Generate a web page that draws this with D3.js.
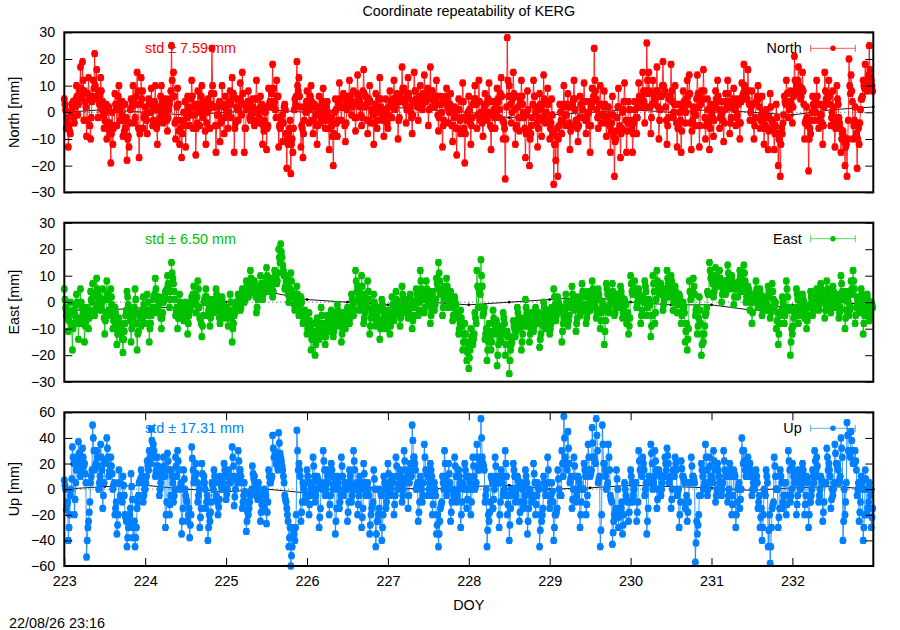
<!DOCTYPE html>
<html><head><meta charset="utf-8">
<script src="https://cdn.jsdelivr.net/npm/d3@7"></script>
<style>
body{margin:0;background:#fff}
svg{display:block}
text{font-family:"Liberation Sans",Arial,Helvetica,sans-serif;font-size:14.4px;fill:#000}
</style>
</head><body>
<svg id="chart" width="900" height="630"></svg>
<script>
// ---------- data ----------
const doyStart = 223;
const samplesPerDay = 120;  // regular sampling; arrays A, C, B hold samples 3i, 3i+1, 3i+2
const refStep = 0.5;        // spacing of the black reference solutions (days)
const xTicks = [223,224,225,226,227,228,229,230,231,232];
const neTicks = [-30,-20,-10,0,10,20,30];
const upTicks = [-60,-40,-20,0,20,40,60];

const northA = [
5,-6,-13,-8,2,-4,10,3,17,19,8,-9,13,-10,6,22,16,8,13,4,-3,-10,2,-19,-12,7,-5,10,2,-9,3,-18,-13,5,10,-2,15,-17,13,-6,
2,-8,4,9,-3,10,-12,1,10,-4,5,-7,3,25,15,-10,9,-12,-17,0,-13,6,-5,12,2,-16,8,-5,10,3,-12,5,-6,24,7,-15,2,-11,10,-8,
3,-6,8,13,-15,5,-3,11,15,-15,2,8,-3,5,-5,12,0,6,-12,-3,-14,9,2,18,4,12,-13,-5,-11,3,-21,-8,-23,-15,5,19,13,-13,-17,2,
8,-4,10,-8,2,-12,6,-2,9,-6,4,-14,-2,-20,5,-9,11,-3,7,-11,3,12,-1,8,-7,14,4,-5,16,6,-8,10,1,-12,7,-3,13,0,-9,5,
-6,8,-2,12,3,-10,6,17,9,-4,13,2,-8,15,5,-3,10,1,14,6,-5,17,8,2,12,-7,6,-13,4,9,-4,7,-11,2,-16,5,-8,11,-19,-3,
6,-12,3,10,-6,12,0,-9,7,-3,11,-14,4,-6,9,-2,13,-10,-25,28,10,-4,15,-12,6,-7,12,0,-17,8,-20,-5,12,2,-13,7,-9,14,-4,9,
-10,5,-27,-18,-24,3,-8,10,-5,7,-14,2,12,-3,-11,6,-2,11,-8,4,-15,9,24,5,-6,10,-4,8,-9,2,-15,6,-24,-7,9,-17,0,11,-15,4,
-3,-15,4,-8,11,2,15,-4,26,15,-8,12,3,17,-10,6,19,8,-12,5,18,-2,10,-13,3,-15,8,-4,12,14,-14,2,-5,14,-13,8,16,-10,5,-14,
3,-9,8,12,-6,4,-11,7,12,-8,2,9,-5,5,-10,11,18,6,16,-3,8,-10,4,10,-6,6,-12,1,-14,7,-3,-14,3,-20,-24,-8,6,12,-2,8,
-4,21,10,17,5,15,-10,2,-22,-8,6,-3,12,-6,3,-12,15,4,12,-5,8,-13,10,-2,-15,-7,-20,-24,20,14,-10,2,-21,-12,5,12,18,8,25,12
];
const northB = [
1,-4,-7,3,-2,5,-1,8,6,-3,2,7,-5,4,9,5,-2,6,1,-6,3,-4,-8,0,-5,2,6,-3,4,-7,-2,-9,1,4,-4,6,-6,3,8,-1,
-3,5,0,-5,4,-6,2,6,-2,3,-3,1,8,6,-4,2,-7,-3,-5,4,-2,1,5,-6,3,-4,1,6,-2,-7,0,3,7,2,-5,-1,4,-3,2,6,
0,4,-2,7,-4,1,5,-1,3,-6,4,-2,2,-3,5,1,-4,3,-7,2,-5,4,7,3,-2,6,-6,-1,2,-8,-12,-3,-10,1,6,8,2,-6,-3,4,
1,6,-3,3,-5,0,-4,4,-1,2,-6,-3,-9,0,-4,3,2,5,-5,1,6,3,4,-2,7,5,-1,8,2,-3,5,-4,-1,3,-6,5,2,-3,1,-4,
2,3,5,1,7,-2,4,8,3,6,5,-2,4,8,2,6,3,7,4,9,5,2,6,4,-1,3,0,-3,6,2,3,-5,-2,-6,1,-3,4,-6,-2,0,
-4,-2,5,3,4,-3,-4,2,-1,5,-5,-1,-2,3,4,7,-3,-6,2,6,3,5,1,-5,-2,4,3,-6,-1,-7,-8,3,6,-4,-2,1,3,-1,4,-3,
-4,-8,-12,-6,-5,-3,2,-1,3,-4,-5,5,1,-6,-2,3,4,-3,-1,-5,2,6,8,-2,3,-1,2,-2,-3,-5,-4,-9,-10,2,-5,-6,4,-3,-4,1,
-6,-4,-2,3,5,6,4,8,7,2,3,5,8,2,1,10,7,-3,-2,6,4,3,-4,-5,-3,2,1,5,3,-4,-3,-1,5,2,3,5,-2,-3,-4,-2,
-2,2,4,1,-1,-3,1,2,4,-2,5,1,-1,-4,4,7,8,5,3,2,-3,-2,6,2,-1,-4,-5,-6,-2,-3,-6,-5,-8,-10,-6,-1,3,4,3,2,
6,8,12,7,9,3,-3,-5,-6,0,2,4,3,-1,-4,2,5,7,3,0,-4,-2,3,-6,-8,-11,-12,-3,7,4,-3,-8,-6,1,6,9,11,14,13,8
];
const northC = [
3,-2,-5,0,4,2,6,5,9,12,4,-3,5,-2,12,10,6,3,8,-1,0,-6,-4,-8,-6,3,1,4,-1,-3,-6,-10,-4,2,5,3,8,-8,5,-2,
-1,0,3,4,1,2,-4,-2,4,0,1,-2,5,12,6,-3,3,-6,-8,-4,-5,2,-1,6,-1,-6,3,0,4,1,-4,1,3,10,2,-5,-1,-4,3,-2,
1,0,3,6,-6,2,1,4,7,-6,1,3,-1,2,0,5,-2,2,-5,0,-6,3,4,9,1,6,-5,-3,-4,1,-10,-6,-12,-6,3,10,6,-5,-8,0,
3,1,4,-3,-1,-5,2,1,3,-3,0,-6,-5,-8,1,-3,5,2,2,-4,4,6,2,3,-2,6,2,-2,7,3,-3,4,0,-4,2,0,5,-1,-3,1,
-1,4,2,5,4,-3,5,9,5,1,7,0,-1,8,3,2,5,3,7,6,1,8,5,3,6,-2,3,-5,4,5,0,2,-5,-1,-6,1,-2,4,-8,-1,
1,-5,3,5,-1,4,-2,-3,3,0,4,-6,1,-1,5,1,6,-4,-10,12,6,0,7,-6,2,-2,6,-2,-8,1,-10,-2,6,0,-6,3,-3,5,0,3,
-6,-1,-12,-9,-10,0,-3,3,-1,2,-7,3,5,-4,-5,3,1,4,-3,0,-5,4,12,1,-1,3,-1,3,-4,-1,-7,-1,-11,-2,2,-8,1,4,-7,1,
-4,-8,1,-2,6,3,8,2,12,8,-2,7,5,8,-3,6,10,2,-5,5,8,0,3,-6,0,-7,4,0,6,7,-7,0,-1,7,-5,5,8,-5,1,-6,
0,-3,5,6,-2,0,-4,4,7,-4,3,4,-2,3,-4,6,10,5,8,0,3,-5,4,5,-3,0,-6,-2,-7,2,-4,-8,-2,-10,-12,-4,4,7,1,4,
2,12,10,10,6,8,-4,-2,-10,-3,3,0,6,-3,-1,-5,8,5,6,-2,2,-6,5,-4,-10,-9,-13,-10,10,8,-5,-4,-10,-4,5,10,12,10,16,10
];
const eastA = [
5,-5,-11,0,-18,-8,3,-14,5,-6,-15,-2,-10,4,7,-5,9,2,-3,5,-12,8,-3,5,-10,-2,-16,-6,-12,-19,-8,4,-3,-15,-6,5,-18,-4,-9,2,
-8,3,-15,-5,1,9,-4,2,-10,0,4,10,-2,15,7,-5,-10,3,-3,-7,0,-12,-3,2,6,-4,8,-6,-13,0,5,-5,-9,1,-4,5,-3,-8,2,-6,
-2,-9,3,-15,-5,0,3,-3,5,0,8,2,12,4,8,-4,3,10,1,6,13,4,9,2,12,7,20,22,14,5,10,0,11,3,-3,6,-5,2,-8,-3,
-12,-4,-18,-8,-20,-6,-14,-2,-10,-16,-5,-11,-3,-13,-7,-1,-9,-15,-4,-10,-2,-8,3,-5,12,6,-3,10,-8,2,8,-12,-4,3,-9,-2,-14,1,-6,-10,
-3,-12,2,-7,4,-1,-9,6,-4,1,-6,3,-10,-2,5,-5,12,2,-4,8,-1,-8,4,-3,9,15,3,-5,6,9,-2,4,-7,2,-4,-12,-3,-18,-8,-22,
-25,-10,-16,-4,12,5,16,-5,-14,-22,-8,-18,-3,-12,-24,-9,-15,-4,-20,-11,-27,-16,-7,-13,-2,-10,-18,-6,1,-9,-15,-4,-11,-2,-8,-17,-5,0,-10,-3,
-12,-2,5,-7,2,-4,-15,-6,3,-9,0,6,-3,-11,2,-5,7,-1,-8,4,-3,8,1,-6,5,-10,0,-16,7,-4,2,7,-5,3,-2,6,-6,1,-8,-12,
10,3,8,-2,5,-8,2,8,-5,1,-13,10,-8,12,3,7,-3,5,12,2,10,-3,6,-4,3,-8,0,-15,-18,8,3,9,-5,-12,2,-20,-15,-5,4,15,
10,2,13,6,12,0,8,3,14,5,10,-1,7,2,12,4,14,0,6,-3,-8,3,8,-2,5,-5,2,-3,6,-6,7,-2,-10,-16,-5,2,-8,8,-3,-20,
-12,-4,5,-8,0,3,-6,-10,-2,4,-5,1,5,-3,7,0,-6,8,2,-4,6,-2,3,-6,10,1,-10,4,-5,8,12,-8,2,-4,5,-12,-3,3,-7,0
];
const eastB = [
-2,-6,-4,-9,-3,-1,-6,-8,-2,-4,-7,-5,-3,0,2,-1,3,-2,0,-6,-4,1,-5,-1,-6,-8,-10,-9,-14,-11,-3,-1,-7,-9,-2,-8,-11,-6,-3,-5,
-3,-5,-8,-2,3,2,-1,-6,-4,2,5,6,4,9,1,-2,-4,-6,-1,-4,-7,-5,0,3,1,2,-2,-8,-5,2,0,-2,-3,-2,0,1,-6,-3,-2,-4,
-5,-3,-6,-8,-2,-1,0,2,1,4,3,5,7,6,2,1,6,5,4,9,7,6,5,8,9,11,15,17,10,8,3,5,4,-1,1,-2,-1,-4,-6,-7,
-8,-10,-12,-14,-12,-10,-9,-8,-13,-11,-8,-7,-6,-9,-4,-5,-6,-10,-7,-5,-6,-3,-1,0,4,2,0,3,-4,-2,1,-6,-2,-3,-5,-7,-8,-3,-4,-6,
-5,-7,-4,-3,-1,-4,-2,1,-2,-3,-1,-2,-5,0,2,0,5,4,1,3,2,-3,0,1,5,8,5,1,2,4,1,-1,-2,-1,-6,-8,-9,-12,-15,-17,
-18,-15,-12,-8,-2,3,6,-2,-10,-15,-13,-12,-8,-7,-16,-14,-10,-8,-12,-16,-18,-13,-10,-9,-6,-8,-12,-9,-4,-6,-10,-8,-7,-5,-4,-12,-9,-4,-6,-7,
-8,-6,-1,-3,-1,-2,-8,-3,-1,-5,-2,1,-1,-6,-3,-2,2,-3,-4,0,0,3,-2,-3,1,-4,-2,-7,3,-1,0,2,-2,0,1,2,-2,-1,-4,-6,
4,5,3,2,1,-3,0,4,1,-1,-5,4,1,5,6,3,1,2,7,5,6,2,3,1,0,-3,-4,-8,-10,1,4,3,-2,-6,-8,-12,-9,-2,3,9,
7,6,8,9,7,5,6,8,9,10,7,5,6,8,9,7,8,5,4,2,0,1,3,1,2,-1,0,-1,2,-2,1,0,-4,-8,-3,-1,-3,2,-2,-10,
-6,-2,1,-3,-1,0,-3,-5,-1,1,-2,0,2,1,3,2,-1,3,0,-1,2,1,0,-2,4,3,-3,0,-2,3,5,-2,0,-1,1,-5,-1,0,-3,-2
];
const eastC = [
1,-3,-7,-4,-10,-5,0,-8,0,-4,-9,-4,-6,1,3,-3,5,0,-2,1,-7,3,-4,2,-7,-4,-12,-8,-10,-14,-5,2,-5,-10,-4,1,-12,-5,-6,-1,
-5,0,-10,-4,2,5,-2,0,-6,1,4,7,1,11,4,-3,-6,0,-2,-5,-3,-8,-2,2,3,-1,5,-6,-9,1,2,-3,-6,0,-2,3,-2,-5,0,-5,
-3,-6,0,-10,-4,0,2,-2,3,1,6,3,9,5,5,-2,4,7,3,7,10,5,7,4,10,8,17,19,12,6,7,2,8,2,-2,3,-4,0,-7,-5,
-10,-7,-14,-11,-16,-8,-12,-5,-11,-13,-7,-9,-5,-11,-6,-3,-8,-12,-6,-8,-4,-6,1,-3,8,4,-2,6,-6,0,4,-9,-3,0,-7,-3,-10,-1,-5,-8,
-4,-9,-1,-5,1,-2,-6,3,-3,0,-4,1,-7,-1,3,-3,8,3,-2,5,0,-5,2,-1,7,11,4,-2,4,6,0,2,-5,0,-5,-10,-6,-15,-12,-19,
-21,-13,-14,-6,6,4,10,-4,-12,-18,-11,-15,-6,-10,-20,-12,-12,-6,-16,-13,-22,-15,-9,-11,-4,-9,-15,-8,-2,-8,-12,-6,-9,-4,-6,-14,-7,-2,-8,-5,
-10,-4,2,-5,0,-3,-11,-5,0,-7,-1,3,-2,-8,0,-4,4,-1,-6,2,-2,5,0,-4,3,-7,-1,-11,5,-3,1,4,-4,1,-1,4,-4,0,-6,-9,
7,4,5,0,3,-5,1,6,-2,0,-9,7,-4,8,4,5,-1,3,9,3,8,0,4,-1,2,-5,-2,-11,-14,4,3,6,-3,-9,-3,-16,-12,-4,3,12,
8,4,10,7,9,3,7,5,11,7,8,2,6,5,10,6,11,2,5,0,-4,2,5,0,3,-3,1,-2,4,-4,4,-1,-7,-12,-4,0,-5,5,-2,-15,
-9,-3,3,-5,-1,1,-4,-7,-2,2,-3,0,3,-1,5,1,-3,5,1,-2,4,0,1,-4,7,2,-6,2,-3,5,8,-5,1,-2,3,-8,-2,1,-5,-1
];
const upA = [
7,-16,-40,-5,33,-20,15,37,10,32,20,-53,-25,5,50,15,30,0,35,-15,20,40,10,25,0,-20,-35,15,-5,10,-20,-45,-25,12,-38,-45,-15,5,15,-10,
0,22,30,47,35,10,25,-5,10,25,-30,28,-20,15,-10,25,30,0,-35,15,-5,-25,-38,33,5,20,-10,-30,20,10,-15,-40,-25,5,15,-5,-20,10,0,20,
-8,15,5,33,-13,10,30,15,-15,5,-33,-20,-5,18,10,-5,5,-25,-10,0,-27,15,5,42,30,20,44,25,15,-5,-15,-45,-60,-30,-40,46,20,-25,5,-10,
15,-20,0,25,-10,10,-30,5,30,-5,15,-20,20,0,-35,10,-15,25,-5,5,-25,15,-10,30,0,-20,10,-30,20,-5,5,-35,-15,15,-45,-25,0,-40,10,-15,
20,-5,10,-20,25,0,15,-10,30,5,-15,20,50,25,0,-25,10,-10,35,15,-5,20,-20,5,-35,-45,-15,10,30,-5,20,-25,0,25,-10,15,-30,5,20,-15,
10,-20,25,0,35,15,55,20,-10,-45,-25,10,-15,25,5,-30,15,-5,30,-20,-40,0,20,-10,10,-25,5,-15,15,-35,0,-10,20,-20,5,-45,-25,10,-5,25,
-15,5,-40,-20,15,-5,30,57,20,45,5,-15,25,-10,10,-30,0,20,-20,35,10,48,25,55,5,-45,50,20,0,35,-5,-43,-20,15,-30,-20,-35,5,-8,-25,
15,-10,5,-25,30,15,25,-5,-35,10,35,0,30,-15,15,-5,10,25,32,5,-15,15,25,-5,-30,22,10,-15,-25,5,25,10,-57,-35,-5,20,0,35,-5,25,
10,30,-10,20,5,-5,30,10,-10,20,-20,15,-30,0,-15,40,30,10,25,20,-5,0,15,-15,-30,-40,0,15,-45,-58,-15,25,0,-30,15,-15,5,-20,30,-10,
20,5,-20,15,0,20,-20,10,-30,-10,15,30,25,-10,10,-25,5,32,20,-15,-5,35,20,5,40,-40,-20,52,30,45,20,30,-5,-25,10,-40,15,-20,5,-30
];
const upB = [
0,-10,-20,8,20,5,25,20,15,18,5,-30,-10,15,30,20,18,10,15,5,22,25,18,12,5,-10,-20,-5,-10,-5,-25,-30,-15,-8,-25,-30,-5,8,5,0,
10,15,20,30,25,18,12,5,15,10,-10,15,-5,5,0,10,15,5,-15,0,-10,-15,-20,15,10,5,0,-15,5,0,-5,-20,-10,0,5,-10,-8,2,5,10,
0,5,10,18,0,5,15,5,-5,-10,-18,-10,0,8,0,-8,-5,-12,-15,-5,-10,5,10,25,20,15,28,18,5,-10,-25,-30,-45,-35,-20,15,10,-10,0,-5,
5,-5,5,10,0,5,-15,0,15,5,5,-5,10,5,-15,0,-5,10,5,0,-10,5,0,15,5,-5,0,-15,5,0,-5,-20,-10,0,-25,-15,-5,-20,0,-5,
5,0,5,-5,10,5,5,0,15,10,5,10,25,15,5,-10,0,5,15,10,5,10,-5,-5,-20,-25,-10,0,10,5,5,-10,-5,10,0,5,-10,0,10,0,
5,0,10,5,15,20,25,15,0,-20,-10,5,0,10,5,-10,5,0,10,-5,-15,-5,10,0,5,-10,0,-5,5,-15,-5,-5,5,-5,0,-20,-15,0,-5,5,
-5,-10,-20,-15,0,-5,10,25,15,20,10,0,10,0,5,-10,0,10,-5,15,15,25,20,30,10,-20,20,10,5,15,-10,-25,-15,0,-15,-10,-20,-5,-10,-10,
5,0,5,-10,15,10,15,5,-15,5,20,10,15,0,10,5,10,15,20,10,0,10,15,0,-10,10,5,-5,-10,5,10,5,-25,-20,-5,10,5,15,5,10,
5,15,0,10,5,5,15,10,0,10,-5,10,-10,5,0,20,15,10,15,10,5,5,5,-5,-15,-20,-5,5,-20,-30,-10,10,0,-15,5,-5,5,-5,15,0,
10,5,-5,5,5,10,-5,5,-10,0,5,15,10,0,5,-10,5,15,10,0,5,20,15,10,25,0,5,30,25,30,20,15,5,-10,0,-20,0,-10,-5,-15
];
const upC = [
3,-12,-30,0,25,-8,20,28,12,25,12,-40,-18,10,40,18,25,5,25,-5,20,32,14,18,3,-15,-28,5,-8,3,-22,-38,-20,2,-30,-38,-10,6,10,-5,
5,18,25,38,30,14,18,0,12,18,-20,22,-12,10,-5,18,22,2,-25,8,-8,-20,-28,24,8,12,-5,-22,12,5,-10,-30,-18,3,10,-8,-14,6,0,15,
-4,10,8,25,-6,8,22,10,-10,-2,-25,-15,-3,12,5,-6,0,-18,-12,-2,-18,10,8,32,25,18,36,22,10,-8,-20,-38,-52,-32,-30,30,15,-18,2,-8,
10,-12,2,18,-5,8,-22,2,22,0,10,-12,15,2,-25,5,-10,18,0,5,-18,10,-5,22,2,-12,5,-22,12,-5,0,-28,-12,8,-35,-20,-2,-30,5,-10,
12,-2,8,-12,18,2,10,-5,22,8,-5,15,38,20,2,-18,5,-5,25,12,0,15,-12,0,-28,-35,-12,5,20,0,12,-18,-2,18,-5,10,-20,2,15,-8,
8,-10,18,2,25,18,40,18,-5,-32,-18,8,-8,18,5,-20,10,-2,20,-12,-28,-2,15,-5,8,-18,2,-10,10,-25,-2,-8,12,-12,2,-32,-20,5,-5,15,
-10,-2,-30,-18,8,-5,20,40,18,32,8,-8,18,-5,8,-20,0,15,-12,25,12,36,22,42,8,-32,35,15,2,25,-8,-34,-18,8,-22,-15,-28,0,-9,-18,
10,-5,5,-18,22,12,20,0,-25,8,28,5,22,-8,12,0,10,20,26,8,-8,12,20,-2,-20,16,8,-10,-18,5,18,8,-42,-28,-5,15,2,25,0,18,
8,22,-5,15,5,0,22,10,-5,15,-12,12,-20,2,-8,30,22,10,20,15,0,2,10,-10,-22,-30,-2,10,-32,-45,-12,18,0,-22,10,-10,5,-12,22,-5,
15,5,-12,10,2,15,-12,8,-20,-5,10,22,18,-5,8,-18,5,25,15,-8,0,28,18,8,32,-25,-10,42,28,38,20,22,0,-18,5,-30,8,-15,0,-22
];
// formal errors (mm)
const northSigma = 1.1, eastSigma = 1.1, upSigma = 2.3;
// black reference solutions every half day
const northRef = [0,1,0,-1,0,1,0,1,2,1,0,-2,-1,0,1,0,1,0,-1,1,2];
const eastRef  = [-3,-3,-2,-2,0,4,1,0,-1,0,-1,0,1,2,0,-1,-1,-3,-1,0,-1];
const upRef    = [0,2,3,0,-2,0,-3,2,1,0,2,3,0,1,3,2,1,-1,1,2,0];

const names  = ["North","East","Up"];
const colors = ["#ff0000","#00c000","#0080ff"];
const stdLabels = ["std \u00b1 7.59 mm","std \u00b1 6.50 mm","std \u00b1 17.31 mm"];
const yLabels = ["North [mm]","East [mm]","Up [mm]"];

// interleave the three sub-samplings into one time series
function series(a, c, b){
  const out = [];
  a.forEach((v,i)=>{
    out.push([doyStart + (3*i)/samplesPerDay, v]);
    out.push([doyStart + (3*i+1)/samplesPerDay, c[i]]);
    out.push([doyStart + (3*i+2)/samplesPerDay, b[i]]);
  });
  return out;
}

// ---------- layout ----------
const svg = d3.select("#chart");
const left = 64.3, right = 873.3;
const x = d3.scaleLinear().domain([223, 233]).range([left, right]);
const boxes = [{top:32.3,bottom:192.3},{top:222.7,bottom:381.7},{top:412.3,bottom:566}];

const panels = [
  {pts:series(northA,northC,northB), sigma:northSigma, ref:northRef, domain:[-30,30], ticks:neTicks},
  {pts:series(eastA,eastC,eastB),    sigma:eastSigma,  ref:eastRef,  domain:[-30,30], ticks:neTicks},
  {pts:series(upA,upC,upB),          sigma:upSigma,    ref:upRef,    domain:[-60,60], ticks:upTicks}
];

svg.append("text").attr("x",(left+right)/2).attr("y",16).attr("text-anchor","middle")
  .text("Coordinate repeatability of KERG");

panels.forEach((p,pi)=>{
  const b = boxes[pi], col = colors[pi];
  const y = d3.scaleLinear().domain(p.domain).range([b.bottom,b.top]);
  const g = svg.append("g");

  // zero axis (dotted)
  g.append("line").attr("x1",left).attr("x2",right).attr("y1",y(0)).attr("y2",y(0))
    .attr("stroke","#000").attr("stroke-width",1).attr("stroke-dasharray","1,3").attr("opacity",0.7);

  // std label
  g.append("text").attr("x",145).attr("y",b.top+21).style("fill",col).text(stdLabels[pi]);

  // reference solutions (black)
  const refPts = p.ref.map((v,i)=>[doyStart+i*refStep, v]);
  g.append("path").attr("d", d3.line().x(d=>x(d[0])).y(d=>y(d[1]))(refPts))
    .attr("fill","none").attr("stroke","#000").attr("stroke-width",0.9);
  g.selectAll(null).data(refPts).join("circle")
    .attr("cx",d=>x(d[0])).attr("cy",d=>y(d[1])).attr("r",1.4).attr("fill","#000");

  // series
  const pts = p.pts;
  g.append("path").attr("d", d3.line().x(d=>x(d[0])).y(d=>y(d[1]))(pts))
    .attr("fill","none").attr("stroke",col).attr("stroke-width",1).attr("stroke-opacity",0.8);
  const eb = pts.map(d=>{
    const xx=x(d[0]), y1=y(d[1]-p.sigma), y2=y(d[1]+p.sigma);
    return `M${xx},${y1}V${y2}M${xx-2.6},${y1}h5.2M${xx-2.6},${y2}h5.2`;
  }).join("");
  g.append("path").attr("d",eb).attr("fill","none").attr("stroke",col).attr("stroke-width",1);
  g.selectAll(null).data(pts).join("circle")
    .attr("cx",d=>x(d[0])).attr("cy",d=>y(d[1])).attr("r",3.5).attr("fill",col);

  // axes (ticks inward, mirrored)
  const ya = g.append("g").attr("transform",`translate(${left},0)`)
    .call(d3.axisLeft(y).tickValues(p.ticks).tickSizeInner(-8).tickSizeOuter(0).tickPadding(9));
  ya.select(".domain").remove();
  ya.selectAll("text").style("font-size","14.4px").style("font-family",null);
  const yr = g.append("g").attr("transform",`translate(${right},0)`)
    .call(d3.axisRight(y).tickValues(p.ticks).tickSizeInner(-8).tickSizeOuter(0).tickFormat(""));
  yr.select(".domain").remove();
  if (pi === 2) {
    const xb = g.append("g").attr("transform",`translate(0,${b.bottom})`)
      .call(d3.axisBottom(x).tickValues(xTicks).tickSizeInner(-8).tickSizeOuter(0).tickPadding(10).tickFormat(d3.format("d")));
    xb.select(".domain").remove();
    xb.selectAll("text").style("font-size","14.4px").style("font-family",null);
    const xt = g.append("g").attr("transform",`translate(0,${b.top})`)
      .call(d3.axisTop(x).tickValues(xTicks).tickSizeInner(-8).tickSizeOuter(0).tickFormat(""));
    xt.select(".domain").remove();
  }
  g.selectAll(".tick line").attr("stroke","#000").attr("stroke-width",1);

  // border
  g.append("rect").attr("x",left).attr("y",b.top).attr("width",right-left).attr("height",b.bottom-b.top)
    .attr("fill","none").attr("stroke","#000").attr("stroke-width",2);

  // y label
  g.append("text").attr("transform",`translate(18.6,${(b.top+b.bottom)/2}) rotate(-90)`)
    .attr("text-anchor","middle").text(yLabels[pi]);

  // legend
  const ly = b.top+16;
  g.append("text").attr("x",801.7).attr("y",b.top+21).attr("text-anchor","end").text(names[pi]);
  g.append("path").attr("d",`M810.7,${ly}H855.3M810.7,${ly-3.5}V${ly+3.5}M855.3,${ly-3.5}V${ly+3.5}`)
    .attr("stroke",col).attr("stroke-width",1).attr("stroke-opacity",0.65).attr("fill","none");
  g.append("circle").attr("cx",833).attr("cy",ly).attr("r",2.7).attr("fill",col);
});

svg.append("text").attr("x",(left+right)/2).attr("y",610).attr("text-anchor","middle").text("DOY");
svg.append("text").attr("x",9).attr("y",628).text("22/08/26 23:16");
</script>
</body></html>
